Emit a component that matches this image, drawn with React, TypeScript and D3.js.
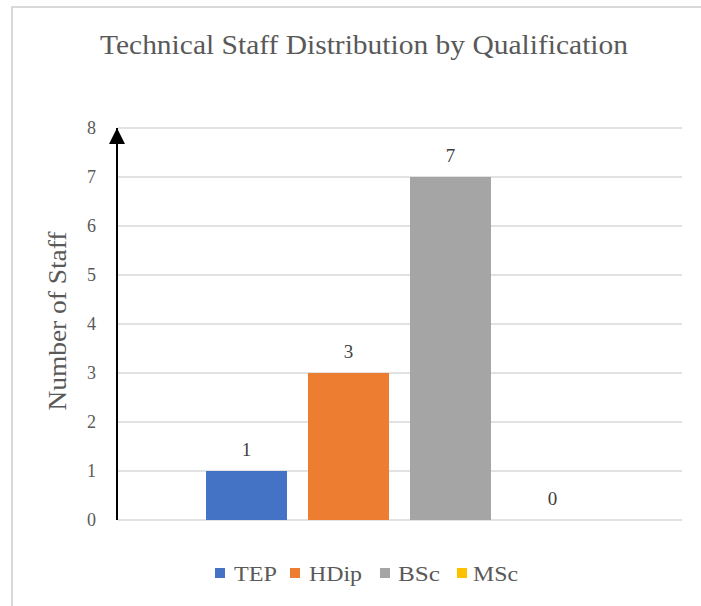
import React, { useEffect, useRef } from 'react';
import * as d3 from 'd3';

const title = 'Technical Staff Distribution by Qualification';
const yLabel = 'Number of Staff';
const series = ['TEP', 'HDip', 'BSc', 'MSc'];
const values = [1, 3, 7, 0];
const colors = ['#4472C4', '#ED7D31', '#A5A5A5', '#FFC000'];
const yTicks = [0, 1, 2, 3, 4, 5, 6, 7, 8];

const W = 701;
const H = 606;
const FONT = "'Liberation Serif', 'Times New Roman', Times, 'Noto Serif', 'DejaVu Serif', serif";

const App = () => {
  const svgRef = useRef<SVGSVGElement>(null);

  useEffect(() => {
    const svg = d3.select(svgRef.current);
    svg.selectAll('*').remove();

    const margin = { top: 128, right: 19, bottom: 86, left: 118 };
    const width = W - margin.left - margin.right;
    const height = H - margin.top - margin.bottom;

    // chart border (cropped at right and bottom in the reference)
    svg.append('rect')
      .attr('x', 12)
      .attr('y', 7)
      .attr('width', W + 20)
      .attr('height', H + 20)
      .attr('fill', 'white')
      .attr('stroke', '#d9d9d9')
      .attr('stroke-width', 2);

    svg.append('text')
      .attr('x', 364)
      .attr('y', 54)
      .attr('text-anchor', 'middle')
      .attr('font-family', FONT)
      .attr('font-size', 28)
      .attr('fill', '#595959')
      .attr('textLength', 528)
      .attr('lengthAdjust', 'spacingAndGlyphs')
      .text(title);

    const g = svg.append('g')
      .attr('transform', `translate(${margin.left},${margin.top})`);

    const y = d3.scaleLinear().domain([0, 8]).range([height, 0]);

    // one category, four series
    const x = d3.scaleBand()
      .domain(series)
      .range([88, 475])
      .paddingInner(0.206)
      .paddingOuter(0);

    // gridlines
    g.append('g')
      .selectAll('line')
      .data(yTicks)
      .enter()
      .append('line')
      .attr('x1', 0)
      .attr('x2', width)
      .attr('y1', d => y(d))
      .attr('y2', d => y(d))
      .attr('stroke', '#d9d9d9')
      .attr('stroke-width', 1.5);

    // tick labels
    g.append('g')
      .selectAll('text')
      .data(yTicks)
      .enter()
      .append('text')
      .attr('x', -22)
      .attr('y', d => y(d) + 6)
      .attr('text-anchor', 'end')
      .attr('font-family', FONT)
      .attr('font-size', 18)
      .attr('fill', '#595959')
      .text(d => d);

    // bars
    g.append('g')
      .selectAll('rect')
      .data(values)
      .enter()
      .append('rect')
      .attr('x', (d, i) => x(series[i]))
      .attr('y', d => y(d))
      .attr('width', x.bandwidth())
      .attr('height', d => height - y(d))
      .attr('fill', (d, i) => colors[i]);

    // value labels
    g.append('g')
      .selectAll('text')
      .data(values)
      .enter()
      .append('text')
      .attr('x', (d, i) => x(series[i]) + x.bandwidth() / 2)
      .attr('y', d => y(d) - 15)
      .attr('text-anchor', 'middle')
      .attr('font-family', FONT)
      .attr('font-size', 19)
      .attr('fill', '#404040')
      .text(d => d);

    // y axis with arrow
    svg.append('defs').append('marker')
      .attr('id', 'arrow')
      .attr('viewBox', '0 0 10 10')
      .attr('refX', 10)
      .attr('refY', 5)
      .attr('markerWidth', 16)
      .attr('markerHeight', 16)
      .attr('markerUnits', 'userSpaceOnUse')
      .attr('orient', 'auto')
      .append('path')
      .attr('d', 'M0,0 L10,5 L0,10 z')
      .attr('fill', 'black');

    g.append('line')
      .attr('x1', -1)
      .attr('x2', -1)
      .attr('y1', height)
      .attr('y2', 0)
      .attr('stroke', 'black')
      .attr('stroke-width', 2)
      .attr('marker-end', 'url(#arrow)');

    g.append('text')
      .attr('transform', `translate(-52,${height / 2 - 3}) rotate(-90)`)
      .attr('text-anchor', 'middle')
      .attr('font-family', FONT)
      .attr('font-size', 25)
      .attr('fill', '#595959')
      .attr('textLength', 179)
      .attr('lengthAdjust', 'spacingAndGlyphs')
      .text(yLabel);

    // legend
    const legendX = [215, 290, 380, 457];
    const legendW = [43, 53, 42, 45];
    const legend = svg.append('g').attr('transform', 'translate(0,573)');
    series.forEach((s, i) => {
      const item = legend.append('g').attr('transform', `translate(${legendX[i]},0)`);
      item.append('rect')
        .attr('x', 0)
        .attr('y', -5)
        .attr('width', 10)
        .attr('height', 10)
        .attr('fill', colors[i]);
      item.append('text')
        .attr('x', i === 2 ? 18 : i === 3 ? 16 : 19)
        .attr('y', 8)
        .attr('font-family', FONT)
        .attr('font-size', 21)
        .attr('fill', '#595959')
        .attr('textLength', legendW[i])
        .attr('lengthAdjust', 'spacingAndGlyphs')
        .text(s);
    });
  }, []);

  return (
    <svg
      ref={svgRef}
      width={W}
      height={H}
      style={{ position: 'absolute', left: 0, top: 0 }}
    />
  );
};

export default App;
